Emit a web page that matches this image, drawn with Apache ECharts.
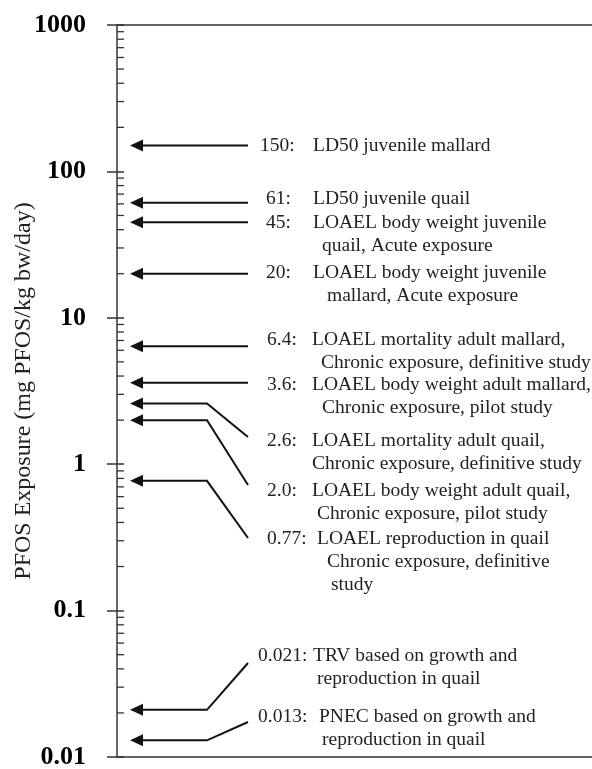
<!DOCTYPE html>
<html>
<head>
<meta charset="utf-8">
<script src="https://cdn.jsdelivr.net/npm/echarts@6/dist/echarts.min.js"></script>
<style>
  html, body { margin: 0; padding: 0; background: #fff; }
  #chart { width: 592px; height: 769px; }
</style>
</head>
<body>
<div id="chart"></div>
<script>
// PFOS toxicity endpoints for birds (mg PFOS/kg bw/day)
const exposureValues = [150, 61, 45, 20, 6.4, 3.6, 2.6, 2.0, 0.77, 0.021, 0.013];
const valueTexts = ['150:', '61:', '45:', '20:', '6.4:', '3.6:', '2.6:', '2.0:', '0.77:', '0.021:', '0.013:'];
const endpointTexts = [
  ['LD50 juvenile mallard'],
  ['LD50 juvenile quail'],
  ['LOAEL body weight juvenile', 'quail, Acute exposure'],
  ['LOAEL body weight juvenile', 'mallard, Acute exposure'],
  ['LOAEL mortality adult mallard,', 'Chronic exposure, definitive study'],
  ['LOAEL body weight adult mallard,', 'Chronic exposure, pilot study'],
  ['LOAEL mortality adult quail,', 'Chronic exposure, definitive study'],
  ['LOAEL body weight adult quail,', 'Chronic exposure, pilot study'],
  ['LOAEL reproduction in quail', 'Chronic exposure, definitive', 'study'],
  ['TRV based on growth and', 'reproduction in quail'],
  ['PNEC based on growth and', 'reproduction in quail']
];
const tickLabels = ['0.01', '0.1', '1', '10', '100', '1000'];

// Label layout (pixels). null leader end = straight arrow.
const leaderEndY = [null, null, null, null, null, null, 437, 485, 538, 663, 722];
const textTopY = [146, 199, 223, 273, 340, 385, 441, 491, 539, 656, 717];
const valueTextX = [260, 266, 266, 266, 267, 267, 267, 267, 267, 258, 258];
const lineTextX = [
  [313], [313], [313, 322], [313, 327], [312, 321], [312, 322],
  [312, 312], [312, 317], [317, 327, 331], [313, 317], [319, 322]
];
const LINE_H = 23;
const TIP_DX = 13, BEND_DX = 90, END_DX = 131;

// Minor ticks at 2..9 within each decade
const minorTicks = [];
for (let e = -2; e < 3; e++) {
  for (let m = 2; m <= 9; m++) minorTicks.push(+(m * Math.pow(10, e)).toPrecision(3));
}

const SERIF = '"Liberation Serif", "Times New Roman", serif';
const INK = '#111';

const chart = echarts.init(document.getElementById('chart'), null, { renderer: 'canvas' });

chart.setOption({
  animation: false,
  backgroundColor: '#fff',
  grid: { left: 117, right: 0, top: 25, bottom: 12, containLabel: false, outerBoundsMode: 'none' },
  xAxis: [
    { type: 'value', min: 0, max: 1, position: 'bottom',
      axisLine: { show: true, lineStyle: { color: '#333', width: 1.5 } },
      axisTick: { show: false }, axisLabel: { show: false }, splitLine: { show: false } },
    { type: 'value', min: 0, max: 1, position: 'top',
      axisLine: { show: true, lineStyle: { color: '#333', width: 1.5 } },
      axisTick: { show: false }, axisLabel: { show: false }, splitLine: { show: false } }
  ],
  yAxis: [
    {
      type: 'log', logBase: 10, min: 0.01, max: 1000, position: 'left',
      name: 'PFOS Exposure (mg PFOS/kg bw/day)',
      nameLocation: 'middle', nameGap: 81, nameMoveOverlap: false,
      nameTextStyle: { fontFamily: SERIF, fontSize: 24, color: '#222' },
      axisLine: { show: true, lineStyle: { color: '#333', width: 1.5 } },
      axisTick: { show: true, inside: false, length: 10, lineStyle: { color: '#333', width: 1.5 } },
      axisLabel: {
        margin: 31, fontFamily: SERIF, fontSize: 26, fontWeight: 'bold', color: '#000',
        formatter: v => tickLabels[Math.round(Math.log10(v)) + 2]
      },
      splitLine: { show: false }
    },
    {
      type: 'log', logBase: 10, min: 0.01, max: 1000, position: 'left', offset: 0,
      axisLine: { show: false },
      axisTick: { show: true, inside: true, length: 7, lineStyle: { color: '#333', width: 1.5 } },
      axisLabel: { show: false },
      splitLine: { show: false }
    }
  ],
  series: [
    {
      // minor ticks on the inside of the log axis
      type: 'custom', xAxisIndex: 0, yAxisIndex: 0, clip: false, silent: true,
      data: minorTicks.map(v => [0, v]),
      renderItem: (params, api) => {
        const p = api.coord([0, api.value(1)]);
        return {
          type: 'line',
          shape: { x1: p[0], y1: p[1], x2: p[0] + 7, y2: p[1] },
          style: { stroke: '#333', lineWidth: 1.3 }
        };
      }
    },
    {
      // arrows with leader lines and endpoint labels
      type: 'custom', xAxisIndex: 0, yAxisIndex: 0, clip: false, silent: true,
      data: exposureValues.map(v => [0, v]),
      renderItem: (params, api) => {
        const i = params.dataIndex;
        const p = api.coord([0, api.value(1)]);
        const x0 = p[0], y = p[1];
        const tip = x0 + TIP_DX;
        const endY = leaderEndY[i] == null ? y : leaderEndY[i];
        const pts = leaderEndY[i] == null
          ? [[tip + 11, y], [x0 + END_DX, y]]
          : [[tip + 11, y], [x0 + BEND_DX, y], [x0 + END_DX, endY]];
        const children = [
          { type: 'polyline', shape: { points: pts },
            style: { stroke: INK, lineWidth: 2, fill: null } },
          { type: 'polygon',
            shape: { points: [[tip, y], [tip + 13, y - 6], [tip + 13, y + 6]] },
            style: { fill: INK } },
          { type: 'text',
            style: { text: valueTexts[i], x: valueTextX[i], y: textTopY[i],
                     font: '19.5px ' + SERIF, fill: '#222', align: 'left', verticalAlign: 'middle' } }
        ];
        endpointTexts[i].forEach((t, k) => {
          children.push({ type: 'text',
            style: { text: t, x: lineTextX[i][k], y: textTopY[i] + k * LINE_H,
                     font: '19.5px ' + SERIF, fill: '#222', align: 'left', verticalAlign: 'middle' } });
        });
        return { type: 'group', children };
      }
    }
  ]
});
</script>
</body>
</html>
